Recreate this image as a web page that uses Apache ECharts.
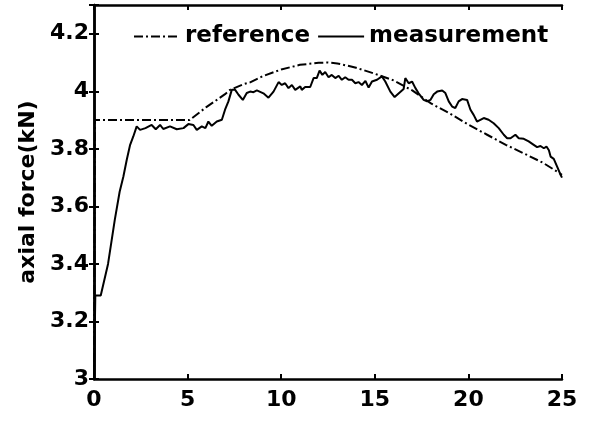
<!DOCTYPE html>
<html>
<head>
<meta charset="utf-8">
<script src="https://cdn.jsdelivr.net/npm/echarts@6/dist/echarts.min.js"></script>
<style>
  html, body { margin: 0; padding: 0; background: #fff; }
  #chart { width: 589px; height: 434px; }
</style>
</head>
<body>
<div id="chart"></div>
<script>
// Axis ranges and ticks
const xTicks = [0, 5, 10, 15, 20, 25];
const yTicks = [3, 3.2, 3.4, 3.6, 3.8, 4, 4.2];
const yMax = 4.3;

const seriesNames = ['reference', 'measurement'];

// Reference axial force [time, kN]
const referencePoints = [
  [0, 3.0], [0.05, 3.9], [5.1, 3.9], [6, 3.945], [7, 3.99], [7.27, 4.005],
  [8, 4.025], [8.34, 4.031], [9, 4.052], [10, 4.076], [11, 4.092], [12, 4.099],
  [12.5, 4.1], [13, 4.097], [14, 4.082], [15, 4.061], [16, 4.038], [17, 4.003],
  [18, 3.958], [19, 3.923], [20, 3.884], [21, 3.849], [22, 3.814], [23, 3.783],
  [24, 3.751], [25, 3.71]
];

// Measured axial force [time, kN]
const measurementPoints = [
  [0, 3.0], [0.07, 3.29], [0.36, 3.29], [0.75, 3.40], [1.11, 3.553], [1.37, 3.651],
  [1.57, 3.704], [1.75, 3.762], [1.93, 3.814], [2.10, 3.843], [2.28, 3.878],
  [2.46, 3.866], [2.75, 3.872], [3.08, 3.883], [3.3, 3.868], [3.53, 3.883],
  [3.70, 3.869], [4.06, 3.878], [4.42, 3.868], [4.78, 3.872], [5.04, 3.886],
  [5.31, 3.883], [5.49, 3.866], [5.76, 3.878], [5.95, 3.872], [6.11, 3.895],
  [6.29, 3.88], [6.56, 3.895], [6.83, 3.901], [7.0, 3.936], [7.18, 3.965],
  [7.36, 4.005], [7.54, 4.005], [7.72, 3.988], [7.95, 3.97], [8.16, 3.994],
  [8.34, 3.999], [8.52, 3.997], [8.70, 4.003], [9.05, 3.993], [9.32, 3.978],
  [9.59, 3.999], [9.86, 4.032], [10.03, 4.022], [10.21, 4.028], [10.39, 4.011],
  [10.57, 4.022], [10.75, 4.005], [11.02, 4.017], [11.1, 4.005], [11.28, 4.015],
  [11.55, 4.015], [11.73, 4.046], [11.9, 4.046], [12.05, 4.072], [12.2, 4.057],
  [12.35, 4.067], [12.53, 4.049], [12.7, 4.057], [12.89, 4.046], [13.07, 4.054],
  [13.24, 4.04], [13.42, 4.049], [13.6, 4.04], [13.78, 4.04], [13.96, 4.028],
  [14.13, 4.032], [14.31, 4.022], [14.5, 4.036], [14.67, 4.013], [14.85, 4.034],
  [15.12, 4.04], [15.38, 4.052], [15.56, 4.034], [15.83, 3.999], [16.06, 3.98],
  [16.3, 3.994], [16.54, 4.008], [16.63, 4.046], [16.81, 4.028], [16.99, 4.034],
  [17.17, 4.011], [17.34, 3.993], [17.44, 3.994], [17.61, 3.970], [17.79, 3.965],
  [17.97, 3.970], [18.15, 3.99], [18.33, 3.999], [18.6, 4.003], [18.77, 3.994],
  [18.95, 3.965], [19.13, 3.947], [19.3, 3.942], [19.48, 3.965], [19.66, 3.973],
  [19.93, 3.97], [20.11, 3.936], [20.28, 3.918], [20.46, 3.895], [20.64, 3.901],
  [20.82, 3.907], [21.08, 3.901], [21.35, 3.889], [21.62, 3.872], [21.89, 3.849],
  [22.07, 3.837], [22.25, 3.837], [22.51, 3.849], [22.69, 3.837], [22.96, 3.835],
  [23.22, 3.826], [23.49, 3.814], [23.67, 3.806], [23.85, 3.81], [24.03, 3.802],
  [24.17, 3.808], [24.3, 3.795], [24.39, 3.773], [24.56, 3.765], [24.74, 3.738],
  [24.92, 3.71], [25, 3.70]
];

const FONT = 'DejaVu Sans';
const xMin = xTicks[0], xMax = xTicks[xTicks.length - 1];
const xStep = xTicks[1] - xTicks[0];
const yMin = yTicks[0];
const yStep = +(yTicks[1] - yTicks[0]).toFixed(6);

const axisLine = { show: true, lineStyle: { color: '#000', width: 2.5 } };
const axisTick = { show: true, inside: true, length: 5, lineStyle: { color: '#000', width: 2 } };
const labelStyle = { color: '#000', fontFamily: FONT, fontWeight: 'bold', fontSize: 22 };

const chart = echarts.init(document.getElementById('chart'), null, { renderer: 'canvas' });
chart.setOption({
  animation: false,
  backgroundColor: '#fff',
  grid: { left: 94, right: 27, top: 5, bottom: 55, containLabel: false },
  legend: {
    data: seriesNames,
    left: 128,
    top: 20,
    itemWidth: 46,
    itemHeight: 14,
    itemGap: 7,
    // line-only keys: hide the marker ECharts puts in the middle of the key
    itemStyle: { opacity: 0 },
    textStyle: { color: '#000', fontFamily: FONT, fontWeight: 'bold', fontSize: 23 }
  },
  xAxis: [
    {
      type: 'value', position: 'bottom', min: xMin, max: xMax, interval: xStep,
      axisLine, axisTick, splitLine: { show: false },
      axisLabel: Object.assign({ margin: 10 }, labelStyle)
    },
    {
      type: 'value', position: 'top', min: xMin, max: xMax, interval: xStep,
      axisLine, axisTick, splitLine: { show: false }, axisLabel: { show: false }
    }
  ],
  yAxis: [
    {
      type: 'value', position: 'left', min: yMin, max: yMax, interval: yStep,
      name: 'axial force(kN)', nameLocation: 'middle', nameGap: 50,
      nameTextStyle: { color: '#000', fontFamily: FONT, fontWeight: 'bold', fontSize: 22 },
      axisLine, axisTick, splitLine: { show: false },
      axisLabel: Object.assign({
        margin: 5,
        formatter: v => (v > yTicks[yTicks.length - 1] + 1e-6 ? '' : String(+v.toFixed(1)))
      }, labelStyle)
    },
    {
      type: 'value', position: 'right', min: yMin, max: yMax, interval: yStep,
      axisLine, axisTick, splitLine: { show: false }, axisLabel: { show: false }
    }
  ],
  series: [
    {
      name: seriesNames[0], type: 'line', xAxisIndex: 0, yAxisIndex: 0,
      data: referencePoints, symbol: 'none', smooth: false,
      lineStyle: { color: '#000', width: 2, type: [9, 3, 2, 3] },
      itemStyle: { color: '#000' }
    },
    {
      name: seriesNames[1], type: 'line', xAxisIndex: 0, yAxisIndex: 0,
      data: measurementPoints, symbol: 'none', smooth: false,
      lineStyle: { color: '#000', width: 2, type: 'solid' },
      itemStyle: { color: '#000' }
    }
  ]
});
</script>
</body>
</html>
